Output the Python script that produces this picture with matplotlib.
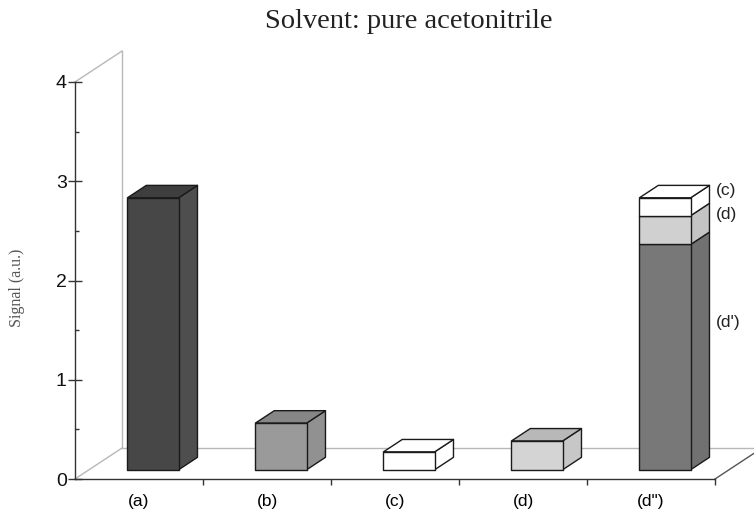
import matplotlib
matplotlib.use('Agg')
import matplotlib.pyplot as plt
from matplotlib.patches import Polygon, Rectangle
from matplotlib.ticker import MultipleLocator

# data
categories = ['(a)', '(b)', '(c)', '(d)', '(d")']
single_vals = [2.74, 0.47, 0.18, 0.29]
single_cols = ['#474747', '#9a9a9a', '#ffffff', '#d4d4d4']
# stacked bar (d"): d', d, c from bottom
stack_vals = [2.27, 0.29, 0.18]
stack_cols = ['#787878', '#d0d0d0', '#ffffff']
stack_names = ["(d')", '(d)', '(c)']

DX, DY = 0.367, 0.312      # full depth of the floor, data units
W = 0.4                    # bar width
F0, F1 = 0.3, 0.7          # bar sits between these depth fractions


def shade(c, f):
    r, g, b = matplotlib.colors.to_rgb(c)
    if min(r, g, b) > 0.98:
        return (1, 1, 1)
    return tuple(min(1, v * f) for v in (r, g, b))


def box(ax, xc, y0, h, col, top=True):
    ox, oy = F0 * DX, F0 * DY
    bx, by = (F1 - F0) * DX, (F1 - F0) * DY
    x0 = xc - W / 2 + ox
    x1 = x0 + W
    ya, yb = y0 + oy, y0 + h + oy
    dark = matplotlib.colors.to_rgb(col)[0] < 0.35
    kw = dict(ec='#1a1a1a', lw=1.0, zorder=3, clip_on=False, joinstyle='round')
    ax.add_patch(Polygon([(x1, ya), (x1 + bx, ya + by), (x1 + bx, yb + by), (x1, yb)],
                         fc=shade(col, 1.1 if dark else 0.94), **kw))
    if top:
        ax.add_patch(Polygon([(x0, yb), (x0 + bx, yb + by), (x1 + bx, yb + by), (x1, yb)],
                             fc=shade(col, 0.87), **kw))
    ax.add_patch(Rectangle((x0, ya), W, h, fc=col, **kw))


fig = plt.figure(figsize=(7.54, 5.11), dpi=100)
ax = fig.add_axes([75 / 754, 32 / 511, 640 / 754, 397 / 511])
ax.set_xlim(-0.5, 4.5)
ax.set_ylim(0, 4)

# back wall / floor
gray = '#b8b8b8'
ax.plot([-0.5, -0.5 + DX], [4, 4 + DY], color=gray, lw=1, clip_on=False, zorder=1)
ax.plot([-0.5, -0.5 + DX], [0, DY], color=gray, lw=1, clip_on=False, zorder=1)
ax.plot([-0.5 + DX, -0.5 + DX], [DY, 4 + DY], color=gray, lw=1, clip_on=False, zorder=1)
ax.plot([-0.5 + DX, 5.0], [DY, DY], color=gray, lw=1, clip_on=False, zorder=1)
ax.plot([4.5, 4.5 + DX], [0, DY], color='#555555', lw=1, clip_on=False, zorder=1)

for i, (v, c) in enumerate(zip(single_vals, single_cols)):
    box(ax, i, 0, v, c)

base = 0
for k, (v, c) in enumerate(zip(stack_vals, stack_cols)):
    box(ax, 4, base, v, c, top=(k == len(stack_vals) - 1))
    base += v

# segment labels beside the stacked bar
sans = ['Liberation Sans', 'DejaVu Sans']
for name, yy in zip(stack_names, [1.58, 2.66, 2.91]):
    ax.text(4.51, yy, name, fontsize=12.5, family=sans, va='center', ha='left',
            color='#222222', clip_on=False)

for s in ['top', 'right']:
    ax.spines[s].set_visible(False)
for s in ['left', 'bottom']:
    ax.spines[s].set_color('#333333')
    ax.spines[s].set_linewidth(1.0)

ax.set_yticks([0, 1, 2, 3, 4])
ax.yaxis.set_minor_locator(MultipleLocator(0.5))
ax.tick_params(axis='y', which='major', direction='inout', length=10, width=1,
               color='#333333', labelsize=14, pad=1)
ax.tick_params(axis='y', which='minor', direction='in', length=3, width=1, color='#333333')
for t in ax.get_yticklabels():
    t.set_family(sans)
    t.set_color('#111111')

ax.set_xticks(range(len(categories)))
ax.set_xticklabels(categories, family=sans, fontsize=12.5)
ax.set_xticks([0.5, 1.5, 2.5, 3.5, 4.5], minor=True)
ax.tick_params(axis='x', which='major', length=0, pad=11)
ax.tick_params(axis='x', which='minor', direction='out', length=4, width=1, color='#333333')

fig.text(409 / 754, 1 - 22 / 511, 'Solvent: pure acetonitrile', family=['Liberation Serif', 'DejaVu Serif'],
         fontsize=20.5, ha='center', va='center', color='#222222')
fig.text(17 / 754, 1 - 288 / 511, 'Signal (a.u.)', family=['Liberation Serif', 'DejaVu Serif'],
         fontsize=11.5, rotation=90, ha='center', va='center', color='#555555')

fig.savefig('out.png', dpi=100)
